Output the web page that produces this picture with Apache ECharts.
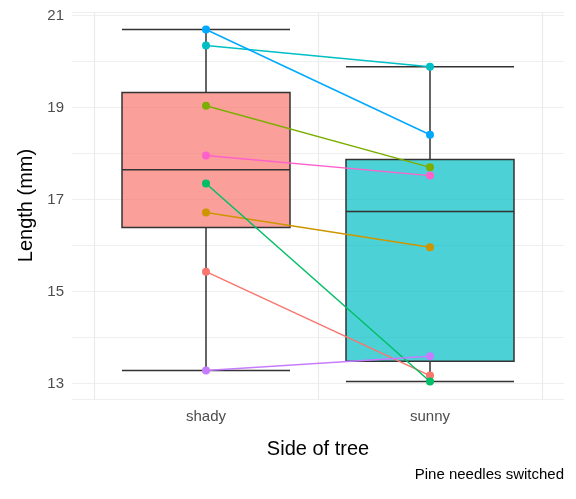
<!DOCTYPE html>
<html>
<head>
<meta charset="utf-8">
<script src="https://cdn.jsdelivr.net/npm/echarts@6/dist/echarts.min.js"></script>
<style>html,body{margin:0;width:100%;height:100%}#main{width:576px;height:499px}</style>
</head>
<body>
<div id="main"></div>
<script>
var sides = ['shady', 'sunny'];
var shady = [15.43, 16.72, 19.04, 17.35, 20.35, 20.70, 13.28, 17.96];
var sunny = [13.17, 15.96, 17.70, 13.04, 19.89, 18.41, 13.59, 17.52];
var treeColors = ['#F8766D', '#CD9600', '#7CAE00', '#00BE67', '#00BFC4', '#00A9FF', '#C77CFF', '#FF61CC'];
// [min, Q1, median, Q3, max]
var boxShady = [13.28, 16.39, 17.65, 19.33, 20.70];
var boxSunny = [13.04, 13.48, 16.74, 17.87, 19.89];
var yMin = 12.66, yMax = 21.08;

var chart = echarts.init(document.getElementById('main'));
var font = 'Liberation Sans, Arial, sans-serif';

var series = [{
  type: 'boxplot', xAxisIndex: 1, yAxisIndex: 1, boxWidth: [168, 168],
  data: [
    { value: boxShady, itemStyle: { color: 'rgba(248,118,109,0.7)', borderColor: '#333', borderWidth: 1.5 } },
    { value: boxSunny, itemStyle: { color: 'rgba(0,191,196,0.7)', borderColor: '#333', borderWidth: 1.5 } }
  ]
}];
treeColors.forEach(function (c, i) {
  series.push({
    type: 'line', xAxisIndex: 1, yAxisIndex: 1, data: [shady[i], sunny[i]],
    symbol: 'circle', symbolSize: 8, color: c, lineStyle: { width: 1.5, color: c }, z: 5
  });
});

chart.setOption({
  animation: false,
  grid: [
    { left: 72, right: 12, top: 12, bottom: 100 },
    { left: 94, right: 34, top: 12, bottom: 100 }
  ],
  xAxis: [
    { gridIndex: 0, type: 'value', min: 0, max: 1, show: false },
    { gridIndex: 1, type: 'category', data: sides, boundaryGap: true,
      axisLine: { show: false }, axisTick: { show: false },
      axisLabel: { color: '#4d4d4d', fontSize: 15, fontFamily: font, margin: 10 },
      splitLine: { show: true, interval: 0, lineStyle: { color: '#ebebeb', width: 1.2 } },
      name: 'Side of tree', nameLocation: 'middle', nameGap: 40,
      nameTextStyle: { color: '#000', fontSize: 20, fontFamily: font } }
  ],
  yAxis: [
    { gridIndex: 0, type: 'value', min: yMin, max: yMax, splitNumber: 8,
      axisLine: { show: false }, axisTick: { show: false },
      axisLabel: { showMinLabel: false, showMaxLabel: false, color: '#4d4d4d', fontSize: 15, fontFamily: font,
        formatter: function (v) { return (Math.abs(v - Math.round(v)) < 1e-6 && Math.round(v) % 2 === 1) ? String(Math.round(v)) : ''; } },
      splitLine: { lineStyle: { color: '#efefef', width: 1.2 } },
      name: 'Length (mm)', nameLocation: 'middle', nameGap: 36, nameRotate: 90,
      nameTextStyle: { color: '#000', fontSize: 20, fontFamily: font } },
    { gridIndex: 1, type: 'value', min: yMin, max: yMax, show: false }
  ],
  graphic: [{ type: 'text', right: 12, top: 467,
    style: { text: 'Pine needles switched', fontSize: 15, fontFamily: font, fill: '#000' } }],
  series: series
});
</script>
</body>
</html>
